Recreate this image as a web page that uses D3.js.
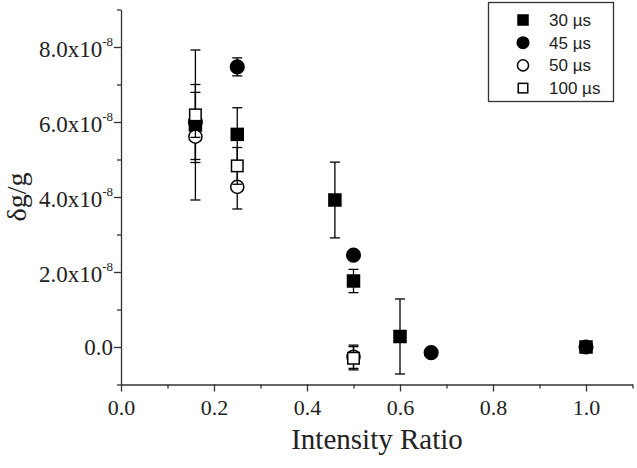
<!DOCTYPE html>
<html>
<head>
<meta charset="utf-8">
<script src="https://cdn.jsdelivr.net/npm/d3@7"></script>
<style>
  body { margin: 0; background: #fff; }
  .serif { font-family: "Liberation Serif", "Times New Roman", serif; }
</style>
</head>
<body>
<script>
// values of dg/g are in units of 1e-8
let seriesNames = ["30 \u00b5s", "45 \u00b5s", "50 \u00b5s", "100 \u00b5s"];

let ratio30 = [0.16, 0.25, 0.46, 0.5, 0.6, 1.0];
let dg30    = [5.92, 5.67, 3.92, 1.76, 0.28, 0.0];
let err30   = [2.0, 0.71, 1.01, 0.31, 1.0, 0.1];

let ratio45 = [0.16, 0.25, 0.5, 0.667, 1.0];
let dg45    = [6.0, 7.47, 2.45, -0.15, 0.0];
let err45   = [1.0, 0.24, 0.1, 0.1, 0.1];

let ratio50 = [0.16, 0.25, 0.5];
let dg50    = [5.61, 4.27, -0.26];
let err50   = [0.69, 0.59, 0.31];

let ratio100 = [0.16, 0.25, 0.5];
let dg100    = [6.19, 4.83, -0.30];
let err100   = [0.6, 0.49, 0.31];

let xMajor = [0, 0.2, 0.4, 0.6, 0.8, 1.0];
let xMinor = [0.1, 0.3, 0.5, 0.7, 0.9, 1.1];
let yMajor = [0, 2, 4, 6, 8];
let yMinor = [-1, 1, 3, 5, 7, 9];

const SERIF = "Liberation Serif, Times New Roman, serif";

function drawChart() {
    let w = 637, h = 468;

    let svg = d3.select("body").append("svg")
        .attr("width", w)
        .attr("height", h);

    let x = d3.scaleLinear().domain([0, 1.1]).range([121, 632.5]);
    let y = d3.scaleLinear().domain([-1, 9]).range([384.5, 9.5]);

    let axisColor = "#333";

    // x axis
    let gx = svg.append("g").attr("transform", "translate(0,384.5)");
    gx.call(d3.axisBottom(x).tickValues(xMajor).tickSize(7).tickSizeOuter(0)
        .tickPadding(8).tickFormat(d3.format(".1f")));
    gx.append("g").call(d3.axisBottom(x).tickValues(xMinor).tickSize(4).tickFormat(""))
        .select(".domain").remove();
    gx.attr("font-family", SERIF).attr("font-size", 22);
    gx.selectAll("path, line").attr("stroke", axisColor).attr("stroke-width", 1.3);
    gx.selectAll("text").attr("fill", "#222").attr("class", "serif");

    // y axis
    let gy = svg.append("g").attr("transform", "translate(121,0)");
    gy.call(d3.axisLeft(y).tickValues(yMajor).tickSize(7).tickSizeOuter(0).tickFormat(""));
    gy.append("g").call(d3.axisLeft(y).tickValues(yMinor).tickSize(4).tickFormat(""))
        .select(".domain").remove();
    gy.attr("font-family", SERIF).attr("font-size", 23);
    gy.selectAll("path, line").attr("stroke", axisColor).attr("stroke-width", 1.3);

    let ylab = gy.selectAll(".ylab")
        .data(yMajor)
        .enter()
        .append("text")
        .attr("class", "ylab serif")
        .attr("x", -8)
        .attr("y", d => y(d) + (d === 0 ? 7.5 : 9.5))
        .attr("text-anchor", "end")
        .attr("fill", "#222")
        .attr("font-size", 23);
    ylab.each(function(d) {
        let t = d3.select(this);
        if (d === 0) {
            t.text("0.0");
        } else {
            t.append("tspan").text(d.toFixed(1) + "x10");
            t.append("tspan").attr("dy", -11).attr("font-size", 13).text("-8");
        }
    });

    // axis titles
    svg.append("text")
        .attr("class", "serif")
        .attr("x", 377)
        .attr("y", 449)
        .attr("text-anchor", "middle")
        .attr("fill", "#222")
        .attr("font-size", 29)
        .text("Intensity Ratio");

    svg.append("text")
        .attr("class", "serif")
        .attr("transform", "translate(26,197) rotate(-90)")
        .attr("text-anchor", "middle")
        .attr("fill", "#222")
        .attr("font-size", 28)
        .text("\u03b4g/g");

    let series = [
        { name: seriesNames[0], xs: ratio30, ys: dg30, es: err30, shape: "square", filled: true },
        { name: seriesNames[1], xs: ratio45, ys: dg45, es: err45, shape: "circle", filled: true },
        { name: seriesNames[2], xs: ratio50, ys: dg50, es: err50, shape: "circle", filled: false },
        { name: seriesNames[3], xs: ratio100, ys: dg100, es: err100, shape: "square", filled: false }
    ];

    function marker(g, s, cx, cy, size) {
        if (s.shape === "square") {
            g.append("rect")
                .attr("x", cx - size / 2).attr("y", cy - size / 2)
                .attr("width", size).attr("height", size)
                .attr("fill", s.filled ? "#000" : "#fff")
                .attr("stroke", "#000").attr("stroke-width", 1.5);
        } else {
            g.append("circle")
                .attr("cx", cx).attr("cy", cy).attr("r", size / 2 + 0.8)
                .attr("fill", s.filled ? "#000" : "#fff")
                .attr("stroke", "#000").attr("stroke-width", 1.5);
        }
    }

    let plot = svg.append("g");
    series.forEach(s => {
        let g = plot.append("g");
        let pts = s.xs.map((v, i) => ({ x: v, y: s.ys[i], e: s.es[i] }));
        pts.forEach(p => {
            let cx = x(p.x), top = y(p.y + p.e), bot = y(p.y - p.e);
            g.append("line").attr("x1", cx).attr("x2", cx).attr("y1", top).attr("y2", bot)
                .attr("stroke", "#000").attr("stroke-width", 1.3);
            [top, bot].forEach(c => {
                g.append("line").attr("x1", cx - 5).attr("x2", cx + 5).attr("y1", c).attr("y2", c)
                    .attr("stroke", "#000").attr("stroke-width", 1.3);
            });
        });
        pts.forEach(p => marker(g, s, x(p.x), y(p.y), s.filled ? 12 : 11.5));
    });

    // legend
    let lg = svg.append("g");
    lg.append("rect")
        .attr("x", 488.5).attr("y", 2.5)
        .attr("width", 125).attr("height", 99)
        .attr("fill", "#fff")
        .attr("stroke", axisColor).attr("stroke-width", 1.3);
    series.forEach((s, i) => {
        let ry = 20 + i * 22.7;
        marker(lg, s, 523, ry, s.filled ? 10 : 9.5);
        lg.append("text")
            .attr("x", 549).attr("y", ry + 6)
            .attr("fill", "#222")
            .attr("font-family", "Liberation Sans, Arial, sans-serif")
            .attr("font-size", 17)
            .text(s.name);
    });
}

window.onload = function() {
    drawChart();
}
</script>
</body>
</html>
